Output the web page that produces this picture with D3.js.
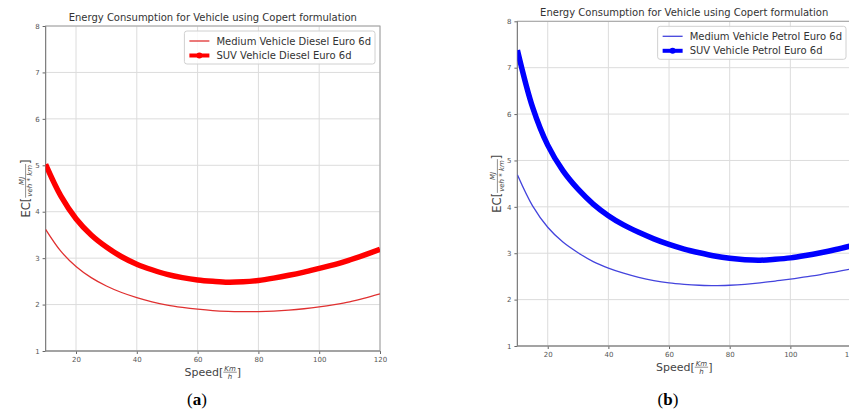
<!DOCTYPE html>
<html>
<head>
<meta charset="utf-8">
<script src="https://cdn.jsdelivr.net/npm/d3@7"></script>
<style>
  body { margin: 0; background: #fff; }
  svg { display: block; font-family: "DejaVu Sans", sans-serif; }
</style>
</head>
<body>
<div id="viz"></div>
<script>
// data
const speeds = [10, 15, 20, 25, 30, 35, 40, 45, 50, 55, 60, 65, 70, 75, 80, 85, 90, 95, 100, 105, 110, 115, 120];

const dieselMedium = [3.62, 3.15, 2.82, 2.58, 2.40, 2.26, 2.15, 2.06, 1.99, 1.94, 1.90, 1.87, 1.855, 1.85, 1.85, 1.86, 1.88, 1.91, 1.95, 2.00, 2.06, 2.14, 2.23];
const dieselSuv = [5.02, 4.34, 3.85, 3.50, 3.24, 3.03, 2.87, 2.75, 2.65, 2.58, 2.53, 2.50, 2.48, 2.49, 2.52, 2.57, 2.63, 2.70, 2.78, 2.86, 2.96, 3.07, 3.19];

const petrolMedium = [4.69, 4.02, 3.56, 3.24, 3.01, 2.82, 2.68, 2.57, 2.48, 2.41, 2.36, 2.33, 2.31, 2.30, 2.31, 2.33, 2.36, 2.40, 2.44, 2.49, 2.54, 2.60, 2.66];
const petrolSuv = [7.38, 6.15, 5.33, 4.78, 4.38, 4.06, 3.81, 3.61, 3.45, 3.31, 3.19, 3.09, 3.01, 2.94, 2.89, 2.86, 2.85, 2.87, 2.90, 2.95, 3.01, 3.08, 3.16];

const xTicks = [20, 40, 60, 80, 100, 120];
const yTicks = [1, 2, 3, 4, 5, 6, 7, 8];

const chartTitle = "Energy Consumption for Vehicle using Copert formulation";
const dieselLabels = ["Medium Vehicle Diesel Euro 6d", "SUV Vehicle Diesel Euro 6d"];
const petrolLabels = ["Medium Vehicle Petrol Euro 6d", "SUV Vehicle Petrol Euro 6d"];

const svg = d3.select("#viz")
  .append("svg")
  .attr("width", 849)
  .attr("height", 413);

function drawPanel(id, box, medium, suv, labels, thinColor, thickColor, caption, captionX) {
  const g = svg.append("g").attr("id", id);

  const xScale = d3.scaleLinear().domain([10, 120]).range([box.left, box.right]);
  const yScale = d3.scaleLinear().domain([1, 8]).range([box.bottom, box.top]);

  // grid
  g.append("g")
    .selectAll("line")
    .data(xTicks)
    .join("line")
    .attr("x1", d => xScale(d)).attr("x2", d => xScale(d))
    .attr("y1", box.top).attr("y2", box.bottom)
    .attr("stroke", "#dcdcdc").attr("stroke-width", 1);
  g.append("g")
    .selectAll("line")
    .data(yTicks)
    .join("line")
    .attr("x1", box.left).attr("x2", box.right)
    .attr("y1", d => yScale(d)).attr("y2", d => yScale(d))
    .attr("stroke", "#dcdcdc").attr("stroke-width", 1);

  // axes
  const xAxis = d3.axisBottom(xScale).tickValues(xTicks).tickFormat(d3.format("d")).tickSize(3).tickPadding(3);
  const yAxis = d3.axisLeft(yScale).tickValues(yTicks).tickFormat(d3.format("d")).tickSize(3).tickPadding(3);

  const gx = g.append("g")
    .attr("transform", `translate(0,${box.bottom})`)
    .call(xAxis);
  const gy = g.append("g")
    .attr("transform", `translate(${box.left},0)`)
    .call(yAxis);
  [gx, gy].forEach(a => {
    a.select(".domain").remove();
    a.selectAll(".tick line").attr("stroke", "#666");
    a.selectAll(".tick text")
      .attr("fill", "#555")
      .style("font-size", "7px")
      .style("font-family", "DejaVu Sans, sans-serif");
  });

  // frame
  g.append("rect")
    .attr("x", box.left).attr("y", box.top)
    .attr("width", box.right - box.left).attr("height", box.bottom - box.top)
    .attr("fill", "none").attr("stroke", "#a0a0a0").attr("stroke-width", 1);
  g.append("path")
    .attr("d", `M${box.left},${box.top}V${box.bottom}H${box.right}`)
    .attr("fill", "none").attr("stroke", "#808080").attr("stroke-width", 1.2);

  // lines
  g.append("clipPath").attr("id", id + "-clip")
    .append("rect")
    .attr("x", box.left).attr("y", box.top)
    .attr("width", box.right - box.left).attr("height", box.bottom - box.top);

  const line = d3.line()
    .x((d, i) => xScale(speeds[i]))
    .y(d => yScale(d))
    .curve(d3.curveCatmullRom.alpha(0.5));

  const lines = g.append("g").attr("clip-path", `url(#${id}-clip)`);
  lines.append("path")
    .attr("d", line(medium))
    .attr("fill", "none").attr("stroke", thinColor).attr("stroke-width", 1.3);
  lines.append("path")
    .attr("d", line(suv))
    .attr("fill", "none").attr("stroke", thickColor).attr("stroke-width", 5.5)
    .attr("stroke-linejoin", "round");

  // title
  g.append("text")
    .attr("x", (box.left + box.right) / 2)
    .attr("y", box.top - 5.5)
    .attr("text-anchor", "middle")
    .attr("fill", "#333")
    .style("font-size", "10px")
    .text(chartTitle);

  // legend
  const leg = g.append("g");
  const texts = labels.map((t, i) => leg.append("text")
    .attr("y", 0).attr("fill", "#333")
    .style("font-size", "10px")
    .text(t));
  const tw = d3.max(texts, t => t.node().getComputedTextLength());
  const lw = tw + 36, lh = 33;
  const lx = box.right - 5 - lw, ly = box.top + 5;
  leg.insert("rect", "text")
    .attr("x", lx).attr("y", ly).attr("width", lw).attr("height", lh)
    .attr("rx", 2.5)
    .attr("fill", "rgba(255,255,255,0.85)").attr("stroke", "#d0d0d0");
  texts.forEach((t, i) => t.attr("x", lx + 32).attr("y", ly + 10 + i * 14.5 + 3.5));
  leg.append("line")
    .attr("x1", lx + 5).attr("x2", lx + 25)
    .attr("y1", ly + 10).attr("y2", ly + 10)
    .attr("stroke", thinColor).attr("stroke-width", 1.3);
  leg.append("line")
    .attr("x1", lx + 5).attr("x2", lx + 25)
    .attr("y1", ly + 24.5).attr("y2", ly + 24.5)
    .attr("stroke", thickColor).attr("stroke-width", 4);
  leg.append("circle")
    .attr("cx", lx + 15).attr("cy", ly + 24.5).attr("r", 3)
    .attr("fill", thickColor);

  // x label: Speed[Km/h]
  const xl = g.append("g");
  const sp = xl.append("text").attr("fill", "#444").style("font-size", "11px").text("Speed[");
  const num = xl.append("text").attr("fill", "#444").style("font-size", "7px").style("font-style", "italic").text("Km");
  const den = xl.append("text").attr("fill", "#444").style("font-size", "7px").style("font-style", "italic").text("h");
  const br = xl.append("text").attr("fill", "#444").style("font-size", "11px").text("]");
  const w1 = sp.node().getComputedTextLength();
  const wf = Math.max(num.node().getComputedTextLength(), den.node().getComputedTextLength()) + 2;
  const w2 = br.node().getComputedTextLength();
  const total = w1 + wf + w2;
  const x0 = (box.left + box.right) / 2 - total / 2;
  const by = box.bottom + 25;
  sp.attr("x", x0).attr("y", by);
  num.attr("x", x0 + w1 + wf / 2).attr("y", by - 5.5).attr("text-anchor", "middle");
  xl.append("line").attr("x1", x0 + w1).attr("x2", x0 + w1 + wf)
    .attr("y1", by - 3.8).attr("y2", by - 3.8).attr("stroke", "#444").attr("stroke-width", 0.6);
  den.attr("x", x0 + w1 + wf / 2).attr("y", by + 3).attr("text-anchor", "middle");
  br.attr("x", x0 + w1 + wf).attr("y", by);

  // y label: EC[MJ/(veh*km)]
  const yl = g.append("g")
    .attr("transform", `translate(${box.left - 16},${(box.top + box.bottom) / 2}) rotate(-90)`);
  const ec = yl.append("text").attr("fill", "#444").style("font-size", "11.5px").text("EC[");
  const yn = yl.append("text").attr("fill", "#444").style("font-size", "7px").style("font-style", "italic").text("MJ");
  const yd = yl.append("text").attr("fill", "#444").style("font-size", "7px").style("font-style", "italic").text("veh * km");
  const yb = yl.append("text").attr("fill", "#444").style("font-size", "11.5px").text("]");
  const e1 = ec.node().getComputedTextLength();
  const ef = Math.max(yn.node().getComputedTextLength(), yd.node().getComputedTextLength()) + 2;
  const e2 = yb.node().getComputedTextLength();
  const ey0 = -(e1 + ef + e2) / 2;
  ec.attr("x", ey0).attr("y", 0);
  yn.attr("x", ey0 + e1 + ef / 2).attr("y", -6).attr("text-anchor", "middle");
  yl.append("line").attr("x1", ey0 + e1).attr("x2", ey0 + e1 + ef)
    .attr("y1", -4).attr("y2", -4).attr("stroke", "#444").attr("stroke-width", 0.6);
  yd.attr("x", ey0 + e1 + ef / 2).attr("y", 2.5).attr("text-anchor", "middle");
  yb.attr("x", ey0 + e1 + ef).attr("y", 0);

  // caption
  const cap = svg.append("text")
    .attr("x", captionX).attr("y", 405)
    .attr("text-anchor", "middle")
    .attr("fill", "#000")
    .style("font-family", "Liberation Serif, serif")
    .style("font-size", "17px");
  cap.append("tspan").text("(");
  cap.append("tspan").style("font-weight", "bold").text(caption);
  cap.append("tspan").text(")");
}

drawPanel("a", { left: 45.6, right: 380, top: 26, bottom: 351 },
  dieselMedium, dieselSuv, dieselLabels, "#e03030", "#ff0000", "a", 197);
drawPanel("b", { left: 517.4, right: 851, top: 21.3, bottom: 346 },
  petrolMedium, petrolSuv, petrolLabels, "#4444dd", "#0000ff", "b", 668);
</script>
</body>
</html>
